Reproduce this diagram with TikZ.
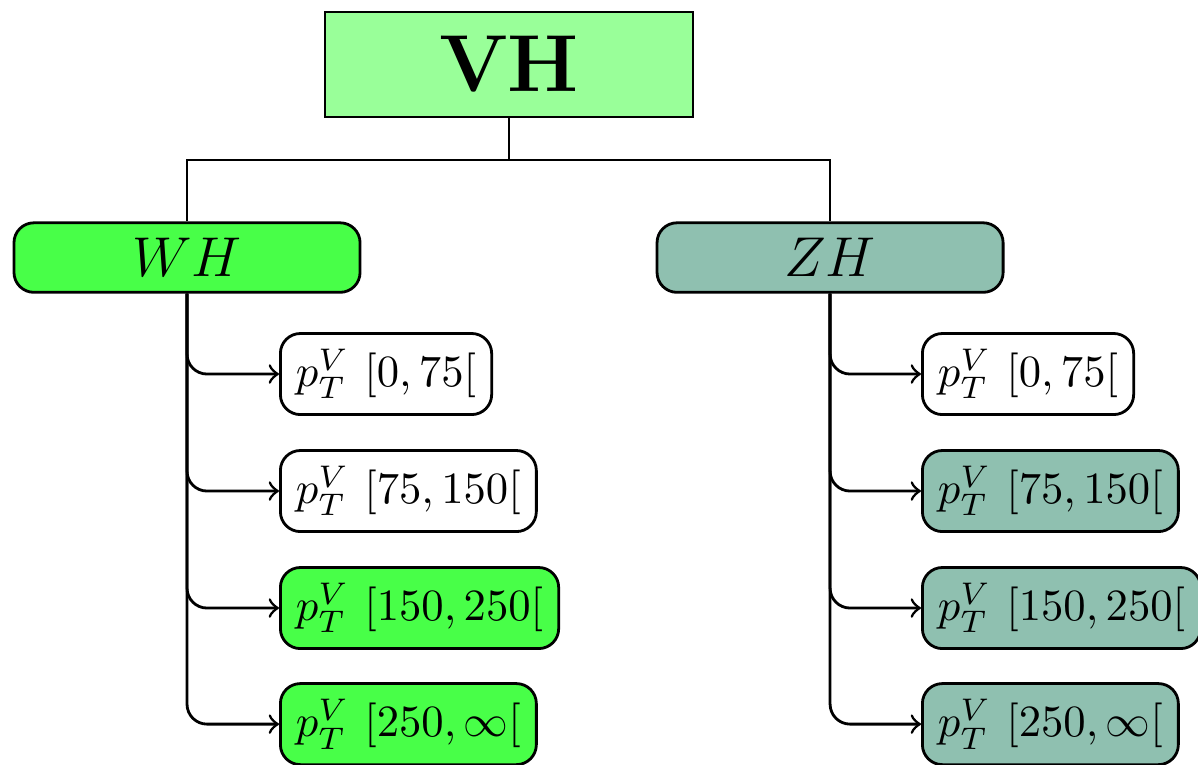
\documentclass[tikz,border=0pt]{standalone}
\usepackage{amsmath,amssymb}
\usepackage{graphicx}
\usepackage{tikz}
\definecolor{vhgreen}{RGB}{153,255,153}
\definecolor{whgreen}{RGB}{72,255,72}
\definecolor{zhgreen}{RGB}{143,192,176}
\newcommand{\ptbin}[1]{\scalebox{0.955}{$p_T^V$ $#1$}}

\begin{document}
\begin{tikzpicture}[semithick,
  topbox/.style={draw,fill=vhgreen,minimum width=2.765cm,minimum height=0.789cm,font=\LARGE\bfseries},
  chanbox/.style={draw,rounded corners=1.5mm,minimum width=2.6cm,minimum height=0.503cm,font=\large},
  binbox/.style={draw,rounded corners=1.5mm,minimum height=0.6cm,anchor=west}
  ]
  \useasboundingbox (0,0) rectangle (9.0,5.74);
  \node[topbox] (vh) at (3.824,5.255) {VH};
  \node[chanbox,fill=whgreen] (wh) at (1.405,3.805) {$WH$};
  \node[chanbox,fill=zhgreen] (zh) at (6.236,3.805) {$ZH$};
  \coordinate (split) at (3.824,4.538);
  \draw (vh.south) -- (split) -| (wh.north);
  \draw (split) -| (zh.north);
  \foreach \k/\y/\bin/\wcol/\zcol in {1/2.930/{[0,75[}/white/white, 2/2.051/{[75,150[}/white/zhgreen,
      3/1.172/{[150,250[}/whgreen/zhgreen, 4/0.300/{[250,\infty[}/whgreen/zhgreen} {
    \node[binbox,fill=\wcol] (w\k) at (2.096,\y) {\ptbin{\bin}};
    \node[binbox,fill=\zcol] (z\k) at (6.919,\y) {\ptbin{\bin}};
    \draw[->,rounded corners=1.5mm] (wh.south) |- (w\k.west);
    \draw[->,rounded corners=1.5mm] (zh.south) |- (z\k.west);
  }
\end{tikzpicture}
\end{document}
